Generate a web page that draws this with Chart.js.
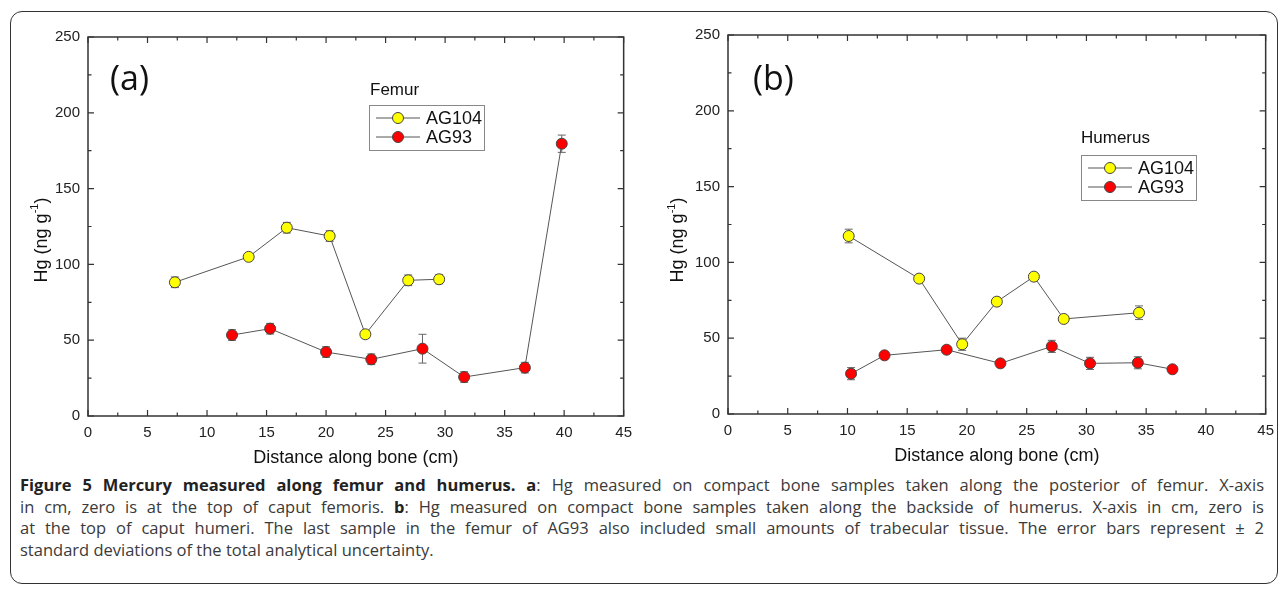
<!DOCTYPE html>
<html>
<head>
<meta charset="utf-8">
<script src="https://cdn.jsdelivr.net/npm/chart.js@4.4.0/dist/chart.umd.min.js"></script>
<style>
  body { margin: 0; background: #fff; width: 1282px; height: 591px; position: relative; overflow: hidden; }
  #frame { position: absolute; left: 10px; top: 11px; width: 1268px; height: 573px; border: 1.5px solid #333; border-radius: 12px; box-sizing: border-box; }
  canvas { position: absolute; top: 0; }
  #caption { position: absolute; left: 20px; top: 474px; width: 1244px; font-family: "Open Sans", sans-serif; font-size: 16.5px; color: #3a3a3a; line-height: 21.5px; }
  #caption b { color: #222; }
  #caption div { text-align: justify; text-align-last: justify; white-space: nowrap; }
  #caption div.last { text-align-last: left; }
</style>
</head>
<body>
<div id="frame"></div>
<canvas id="femur" width="640" height="470" style="left:0px"></canvas>
<canvas id="humerus" width="642" height="470" style="left:640px"></canvas>
<div id="caption">
  <div><b>Figure 5 Mercury measured along femur and humerus. a</b>: Hg measured on compact bone samples taken along the posterior of femur. X-axis</div>
  <div>in cm, zero is at the top of caput femoris. <b>b</b>: Hg measured on compact bone samples taken along the backside of humerus. X-axis in cm, zero is</div>
  <div>at the top of caput humeri. The last sample in the femur of AG93 also included small amounts of trabecular tissue. The error bars represent ± 2</div>
  <div class="last">standard deviations of the total analytical uncertainty.</div>
</div>
<script>
// tick labels
var xTickValues = [0, 5, 10, 15, 20, 25, 30, 35, 40, 45];
var yTickValues = [0, 50, 100, 150, 200, 250];
var seriesNames = ['AG104', 'AG93'];

// (a) femur
var femurAG104X = [7.3, 13.5, 16.7, 20.3, 23.3, 26.9, 29.5];
var femurAG104Y = [88.2, 105, 124.2, 118.7, 53.9, 89.5, 90.2];
var femurAG104Err = [3.5, 2, 3.5, 3.5, 2.5, 3.5, 3];
var femurAG93X = [12.1, 15.3, 20.0, 23.8, 28.1, 31.6, 36.7, 39.8];
var femurAG93Y = [53.4, 57.6, 42.2, 37.4, 44.4, 25.7, 31.9, 179.6];
var femurAG93Err = [3.5, 3.5, 3.5, 3.5, 9.5, 3.5, 3.5, 5.7];

// (b) humerus
var humerusAG104X = [10.1, 16.0, 19.6, 22.5, 25.6, 28.1, 34.4];
var humerusAG104Y = [117.4, 89.3, 46.0, 74.1, 90.6, 62.7, 66.8];
var humerusAG104Err = [4.5, 2, 4, 2.5, 2, 2, 4.5];
var humerusAG93X = [10.3, 13.1, 18.3, 22.8, 27.1, 30.3, 34.3, 37.2];
var humerusAG93Y = [26.6, 38.7, 42.4, 33.4, 44.6, 33.4, 33.8, 29.5];
var humerusAG93Err = [4, 2, 2, 1.5, 4, 4, 4, 1.5];

var fillColors = ['#ffff00', '#ff0000'];
var FONT = '"Liberation Sans", Arial, sans-serif';

Chart.defaults.font.family = FONT;
Chart.defaults.color = '#222';

function toPoints(xs, ys) {
    return xs.map(function(x, i) { return { x: x, y: ys[i] }; });
}

function makeSet(name, xs, ys, errs, fill) {
    return {
        label: name,
        data: toPoints(xs, ys),
        err: errs,
        showLine: true,
        borderColor: '#555',
        borderWidth: 1,
        pointRadius: 5.5,
        pointHoverRadius: 5.5,
        pointBackgroundColor: fill,
        pointBorderColor: '#444',
        pointBorderWidth: 1
    };
}

// frame, inward ticks, error bars, y title, panel label and legend
var framePlugin = {
    id: 'frame',
    beforeDatasetsDraw: function(chart) {
        var ctx = chart.ctx, xs = chart.scales.x, ys = chart.scales.y;
        ctx.save();
        ctx.strokeStyle = '#666';
        ctx.lineWidth = 1;
        chart.data.datasets.forEach(function(ds) {
            ds.data.forEach(function(p, i) {
                var px = xs.getPixelForValue(p.x);
                var y1 = ys.getPixelForValue(p.y + ds.err[i]);
                var y2 = ys.getPixelForValue(p.y - ds.err[i]);
                ctx.beginPath();
                ctx.moveTo(px, y1); ctx.lineTo(px, y2);
                ctx.moveTo(px - 4, y1); ctx.lineTo(px + 4, y1);
                ctx.moveTo(px - 4, y2); ctx.lineTo(px + 4, y2);
                ctx.stroke();
            });
        });
        ctx.restore();
    },
    afterDraw: function(chart, args, opts) {
        var ctx = chart.ctx, a = chart.chartArea;
        var xs = chart.scales.x, ys = chart.scales.y;
        ctx.save();
        ctx.strokeStyle = '#333';
        ctx.lineWidth = 1.5;
        ctx.strokeRect(a.left, a.top, a.right - a.left, a.bottom - a.top);

        ctx.lineWidth = 1.2;
        ctx.beginPath();
        xTickValues.forEach(function(v, i) {
            var px = xs.getPixelForValue(v);
            ctx.moveTo(px, a.bottom); ctx.lineTo(px, a.bottom - 6);
            ctx.moveTo(px, a.top); ctx.lineTo(px, a.top + 6);
            if (i < xTickValues.length - 1) {
                var mx = xs.getPixelForValue((v + xTickValues[i + 1]) / 2);
                ctx.moveTo(mx, a.bottom); ctx.lineTo(mx, a.bottom - 3.5);
                ctx.moveTo(mx, a.top); ctx.lineTo(mx, a.top + 3.5);
            }
        });
        yTickValues.forEach(function(v, i) {
            var py = ys.getPixelForValue(v);
            ctx.moveTo(a.left, py); ctx.lineTo(a.left + 6, py);
            ctx.moveTo(a.right, py); ctx.lineTo(a.right - 6, py);
            if (i < yTickValues.length - 1) {
                var my = ys.getPixelForValue((v + yTickValues[i + 1]) / 2);
                ctx.moveTo(a.left, my); ctx.lineTo(a.left + 3.5, my);
                ctx.moveTo(a.right, my); ctx.lineTo(a.right - 3.5, my);
            }
        });
        ctx.stroke();

        // y axis title with superscript
        ctx.fillStyle = '#111';
        ctx.textBaseline = 'middle';
        ctx.textAlign = 'left';
        var big = '18px ' + FONT, small = '11px ' + FONT;
        ctx.font = big;
        var w1 = ctx.measureText('Hg (ng g').width, w3 = ctx.measureText(')').width;
        ctx.font = small;
        var w2 = ctx.measureText('-1').width;
        ctx.translate(opts.yTitleX, opts.yTitleY);
        ctx.rotate(-Math.PI / 2);
        var sx = -(w1 + w2 + w3) / 2;
        ctx.font = big;
        ctx.fillText('Hg (ng g', sx, 0);
        ctx.font = small;
        ctx.fillText('-1', sx + w1, -7);
        ctx.font = big;
        ctx.fillText(')', sx + w1 + w2, 0);
        ctx.setTransform(1, 0, 0, 1, 0, 0);

        // panel label
        ctx.font = '34px "Open Sans", sans-serif';
        ctx.fillText(opts.label, opts.labelX, opts.labelY);

        // legend
        var L = opts.legend;
        ctx.font = '17px ' + FONT;
        ctx.fillText(L.title, L.titleX, L.titleY);
        ctx.strokeStyle = '#888';
        ctx.lineWidth = 1;
        ctx.strokeRect(L.box[0] + 0.5, L.box[1] + 0.5, L.box[2], L.box[3]);
        chart.data.datasets.forEach(function(ds, i) {
            var ey = L.rows[i];
            ctx.strokeStyle = '#555';
            ctx.beginPath();
            ctx.moveTo(L.mark - 22, ey); ctx.lineTo(L.mark + 22, ey);
            ctx.stroke();
            ctx.beginPath();
            ctx.arc(L.mark, ey, 5.5, 0, Math.PI * 2);
            ctx.fillStyle = ds.pointBackgroundColor;
            ctx.fill();
            ctx.strokeStyle = '#444';
            ctx.stroke();
            ctx.fillStyle = '#111';
            ctx.font = '18px ' + FONT;
            ctx.fillText(ds.label, L.textX, ey + 1);
        });
        ctx.restore();
    }
};

function makeChart(id, sets, pad, xH, xTitlePad, frameOpts) {
    return new Chart(document.getElementById(id), {
        type: 'scatter',
        data: { datasets: sets },
        plugins: [framePlugin],
        options: {
            responsive: false,
            animation: false,
            layout: { padding: pad },
            plugins: {
                legend: { display: false },
                tooltip: { enabled: false },
                frame: frameOpts
            },
            scales: {
                x: {
                    type: 'linear', min: 0, max: 45,
                    afterBuildTicks: function(s) { s.ticks = xTickValues.map(function(v) { return { value: v }; }); },
                    afterFit: function(s) { s.height = xH; },
                    grid: { display: false, drawTicks: false },
                    border: { display: false },
                    ticks: { padding: 8, font: { size: 15 }, color: '#222', maxRotation: 0, autoSkip: false },
                    title: { display: true, text: 'Distance along bone (cm)', font: { size: 18 }, color: '#111', padding: { top: 0, bottom: xTitlePad } }
                },
                y: {
                    type: 'linear', min: 0, max: 250,
                    afterBuildTicks: function(s) { s.ticks = yTickValues.map(function(v) { return { value: v }; }); },
                    afterFit: function(s) { s.width = 88; },
                    grid: { display: false, drawTicks: false },
                    border: { display: false },
                    ticks: { padding: 8, font: { size: 15 }, color: '#222', autoSkip: false }
                }
            }
        }
    });
}

makeChart('femur', [
    makeSet(seriesNames[0], femurAG104X, femurAG104Y, femurAG104Err, fillColors[0]),
    makeSet(seriesNames[1], femurAG93X, femurAG93Y, femurAG93Err, fillColors[1])
], { top: 37, right: 13, bottom: 0, left: 0 }, 54, 1, {
    label: '(a)', labelX: 110, labelY: 80, yTitleX: 42, yTitleY: 240,
    legend: { title: 'Femur', titleX: 370, titleY: 90, box: [369, 105, 115, 45], rows: [118, 137], mark: 398, textX: 426 }
});

makeChart('humerus', [
    makeSet(seriesNames[0], humerusAG104X, humerusAG104Y, humerusAG104Err, fillColors[0]),
    makeSet(seriesNames[1], humerusAG93X, humerusAG93Y, humerusAG93Err, fillColors[1])
], { top: 35, right: 15, bottom: 0, left: 0 }, 56, 3, {
    label: '(b)', labelX: 113, labelY: 80, yTitleX: 38.5, yTitleY: 240,
    legend: { title: 'Humerus', titleX: 441, titleY: 138, box: [441, 155, 115, 45], rows: [168, 187], mark: 470, textX: 498 }
});
</script>
</body>
</html>
